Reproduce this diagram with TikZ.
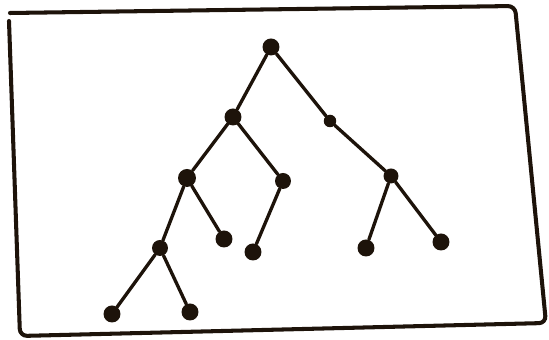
\documentclass[tikz,border=0pt]{standalone}
\usetikzlibrary{positioning}

\begin{document}
\begin{tikzpicture}[
    x=0.02cm, y=-0.02cm,
    ink/.style={draw=black!85!brown, line width=1.9pt, line cap=round, line join=round},
    frame/.style={ink, line width=2.3pt},
    dot/.style={circle, fill=black!85!brown, inner sep=0pt, minimum size=0.32cm},
    leafdot/.style={dot, minimum size=0.34cm},
    smalldot/.style={dot, minimum size=0.25cm}
]
\useasboundingbox (0,0) rectangle (549,340);
% frame
\draw[frame, rounded corners=4pt] (9,21) -- (20,336) -- (546,323) -- (515,6) -- (10,13);
% tree
\node[dot, minimum size=0.34cm] (root) at (271,47) {};
\node[dot, minimum size=0.34cm] (a) at (233,117) {};
\node[smalldot] (b) at (330,121) {};
\node[dot, minimum size=0.36cm] (c) at (187,178) {};
\node[dot] (d) at (283,181) {};
\node[dot, minimum size=0.3cm] (e) at (391,176) {};
\node[dot] (f) at (160,248) {};
\node[leafdot] (g) at (224,239) {};
\node[leafdot] (h) at (253,252) {};
\node[leafdot] (i) at (366,248) {};
\node[leafdot] (j) at (441,242) {};
\node[leafdot] (k) at (112,314) {};
\node[leafdot] (l) at (190,312) {};
\draw[ink] (root) -- (a);
\draw[ink] (root) -- (b);
\draw[ink] (a) -- (c);
\draw[ink] (a) -- (d);
\draw[ink] (b) -- (e);
\draw[ink] (c) -- (f);
\draw[ink] (c) -- (g);
\draw[ink] (d) -- (h);
\draw[ink] (e) -- (i);
\draw[ink] (e) -- (j);
\draw[ink] (f) -- (k);
\draw[ink] (f) -- (l);
\end{tikzpicture}
\end{document}
